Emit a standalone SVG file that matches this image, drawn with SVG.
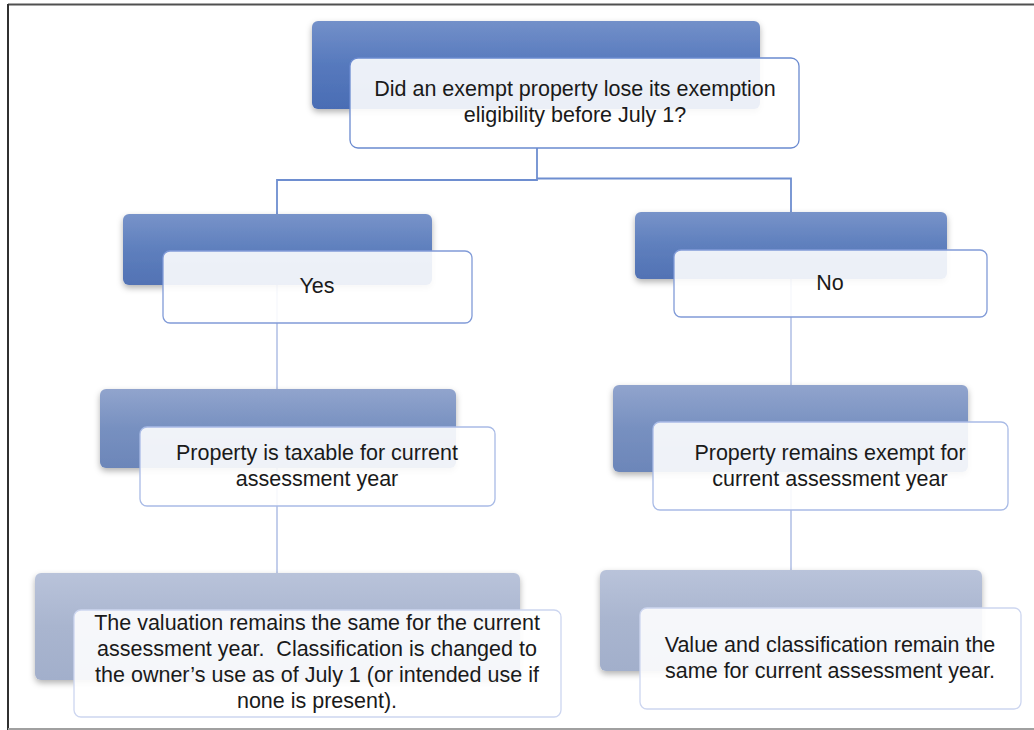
<svg xmlns="http://www.w3.org/2000/svg" width="1034" height="730" viewBox="0 0 1034 730">
<defs>
<linearGradient id="g0" x1="0" y1="0" x2="0" y2="1"><stop offset="0" stop-color="#7390c9"/><stop offset="0.5" stop-color="#5679bd"/><stop offset="1" stop-color="#4a6db4"/></linearGradient>
<linearGradient id="g1" x1="0" y1="0" x2="0" y2="1"><stop offset="0" stop-color="#7893c9"/><stop offset="0.5" stop-color="#5e7fbd"/><stop offset="1" stop-color="#5272b4"/></linearGradient>
<linearGradient id="g2" x1="0" y1="0" x2="0" y2="1"><stop offset="0" stop-color="#91a4cd"/><stop offset="0.5" stop-color="#7790c0"/><stop offset="1" stop-color="#6c86b9"/></linearGradient>
<linearGradient id="g3" x1="0" y1="0" x2="0" y2="1"><stop offset="0" stop-color="#b9c3da"/><stop offset="0.5" stop-color="#a9b5cf"/><stop offset="1" stop-color="#a2afcb"/></linearGradient>
<filter id="sh" x="-10%" y="-20%" width="120%" height="150%"><feDropShadow dx="0" dy="3" stdDeviation="3" flood-color="#000" flood-opacity="0.3"/></filter>
</defs>
<style>
.back{filter:url(#sh)}
.front{fill:#fff;fill-opacity:0.89;stroke-width:1.3}
.t{font-family:"Liberation Sans",Arial,sans-serif;font-size:21.5px;fill:#1a1a1a;text-anchor:middle;white-space:pre}
.c0{fill:none;stroke:#6e8ed0;stroke-width:1.8}
.c1{fill:none;stroke:#b4c2e6;stroke-width:1.6}
</style>
<rect width="1034" height="730" fill="#fff"/>
<g id="frame">
<line x1="8" y1="4.5" x2="1034" y2="4.5" stroke="#505050" stroke-width="2"/>
<line x1="8" y1="4" x2="8" y2="730" stroke="#303030" stroke-width="2"/>
<line x1="8" y1="729" x2="1034" y2="729" stroke="#a0a0a0" stroke-width="2"/>
</g>
<g id="connectors">
<path class="c0" d="M537 148 V180 H277 V214"/>
<path class="c0" d="M537 178.5 H791 V212"/>
<path class="c1" d="M277 285 V389"/>
<path class="c1" d="M277 468 V573"/>
<path class="c1" d="M791 279 V385"/>
<path class="c1" d="M791 472 V570"/>
</g>
<g id="n0">
<rect class="back" x="312" y="21" width="448" height="88" rx="6" fill="url(#g0)"/>
<rect class="front" x="350" y="58" width="449" height="90" rx="8" stroke="#6a8ad0"/>
<text class="t" x="575" y="96">Did an exempt property lose its exemption</text>
<text class="t" x="575" y="122">eligibility before July 1?</text>
</g>
<g id="n1">
<rect class="back" x="123" y="214" width="309" height="71" rx="6" fill="url(#g1)"/>
<rect class="front" x="163" y="251" width="309" height="72" rx="7" stroke="#819bd8"/>
<text class="t" x="317" y="293">Yes</text>
</g>
<g id="n2">
<rect class="back" x="635" y="212" width="312" height="67" rx="6" fill="url(#g1)"/>
<rect class="front" x="674" y="250" width="313" height="67" rx="7" stroke="#819bd8"/>
<text class="t" x="830" y="290">No</text>
</g>
<g id="n3">
<rect class="back" x="100" y="389" width="356" height="79" rx="6" fill="url(#g2)"/>
<rect class="front" x="140" y="427" width="355" height="79" rx="7" stroke="#a9bbe6"/>
<text class="t" x="317" y="460">Property is taxable for current</text>
<text class="t" x="317" y="486">assessment year</text>
</g>
<g id="n4">
<rect class="back" x="613" y="385" width="355" height="87" rx="6" fill="url(#g2)"/>
<rect class="front" x="653" y="422" width="355" height="88" rx="7" stroke="#a9bbe6"/>
<text class="t" x="830" y="460">Property remains exempt for</text>
<text class="t" x="830" y="486">current assessment year</text>
</g>
<g id="n5">
<rect class="back" x="35" y="573" width="485" height="107" rx="6" fill="url(#g3)"/>
<rect class="front" x="74" y="610" width="487" height="107" rx="7" stroke="#cdd6f0"/>
<text class="t" x="317" y="630">The valuation remains the same for the current</text>
<text class="t" x="317" y="656">assessment year.&#160; Classification is changed to</text>
<text class="t" x="317" y="682">the owner’s use as of July 1 (or intended use if</text>
<text class="t" x="317" y="708">none is present).</text>
</g>
<g id="n6">
<rect class="back" x="600" y="570" width="382" height="101" rx="6" fill="url(#g3)"/>
<rect class="front" x="640" y="608" width="381" height="101" rx="7" stroke="#cdd6f0"/>
<text class="t" x="830" y="652">Value and classification remain the</text>
<text class="t" x="830" y="678">same for current assessment year.</text>
</g>
</svg>
